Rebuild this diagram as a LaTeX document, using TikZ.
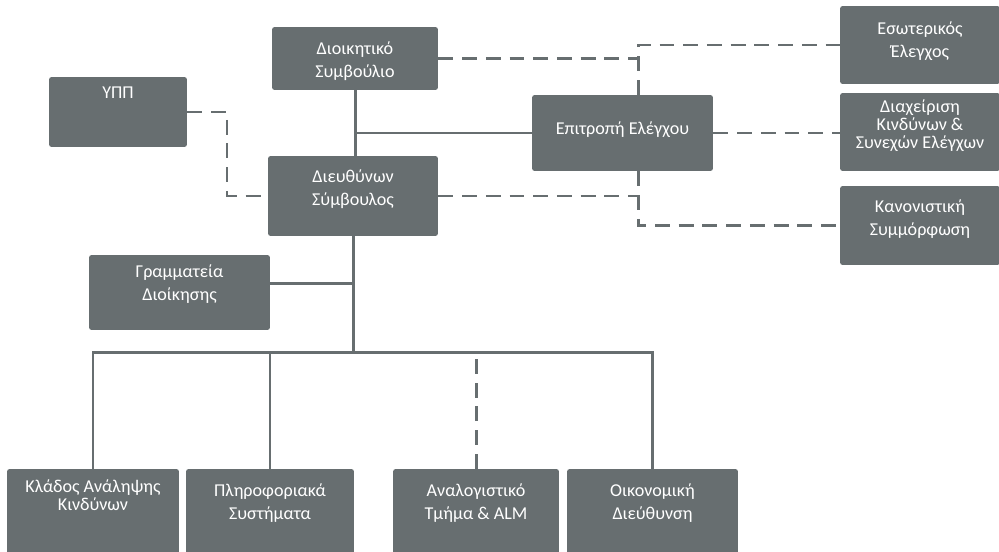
\documentclass[tikz,border=0pt]{standalone}
\usepackage{fontspec}
\setmainfont{Carlito}
\definecolor{boxgray}{RGB}{103,110,112}
\begin{document}
\begin{tikzpicture}[x=0.02cm, y=-0.02cm,
        box/.style={rectangle, rounded corners=1.5pt, fill=boxgray, inner sep=0pt},
        boxtext/.style={anchor=north, inner sep=0pt, text=white, align=center, font=\fontsize{10.3}{13}\selectfont},
        tighttext/.style={boxtext, font=\fontsize{10.3}{10.2}\selectfont},
        sline/.style={draw=boxgray, line width=1.7pt},
        dline/.style={draw=boxgray, line width=1.7pt, dash pattern=on 8.5pt off 5pt}
    ]
        \clip (0,0) rectangle (999,551);

        % Board and chief executive
        \node[box, minimum width=3.32cm, minimum height=1.26cm,
            label={[boxtext, yshift=-0.29cm]north:{Διοικητικό\\Συμβούλιο}}] (board) at (355,58.5) {};
        \node[box, minimum width=3.40cm, minimum height=1.60cm,
            label={[boxtext, yshift=-0.27cm]north:{Διευθύνων\\Σύμβουλος}}] (ceo) at (353,196) {};
        \node[box, minimum width=2.76cm, minimum height=1.40cm,
            label={[boxtext, yshift=-0.19cm]north:{ΥΠΠ}}] (ypp) at (118,112) {};
        \node[box, minimum width=3.62cm, minimum height=1.52cm,
            label={[boxtext, yshift=-0.53cm]north:{Επιτροπή Ελέγχου}}] (committee) at (622.5,133) {};

        % Control functions on the right
        \node[box, minimum width=3.2cm, minimum height=1.56cm,
            label={[boxtext, yshift=-0.31cm]north:{Εσωτερικός\\Έλεγχος}}] (audit) at (920,45) {};
        \node[box, minimum width=3.2cm, minimum height=1.56cm,
            label={[tighttext, yshift=-0.13cm]north:{Διαχείριση\\Κινδύνων \&\\Συνεχών Ελέγχων}}] (risk) at (920,132) {};
        \node[box, minimum width=3.2cm, minimum height=1.58cm,
            label={[boxtext, yshift=-0.27cm]north:{Κανονιστική\\Συμμόρφωση}}] (compliance) at (920,225.5) {};

        % Secretariat
        \node[box, minimum width=3.62cm, minimum height=1.50cm,
            label={[boxtext, yshift=-0.19cm]north:{Γραμματεία\\Διοίκησης}}] (secretariat) at (179.5,292.5) {};

        % Bottom row of departments
        \node[box, minimum width=3.44cm, minimum height=1.82cm,
            label={[tighttext, yshift=-0.21cm]north:{Κλάδος Ανάληψης\\Κινδύνων}}] (underwriting) at (93,514.5) {};
        \node[box, minimum width=3.36cm, minimum height=1.82cm,
            label={[boxtext, yshift=-0.29cm]north:{Πληροφοριακά\\Συστήματα}}] (systems) at (270,514.5) {};
        \node[box, minimum width=3.32cm, minimum height=1.82cm,
            label={[boxtext, yshift=-0.29cm]north:{Αναλογιστικό\\Τμήμα \& ALM}}] (actuarial) at (476,514.5) {};
        \node[box, minimum width=3.42cm, minimum height=1.82cm,
            label={[boxtext, yshift=-0.29cm]north:{Οικονομική\\Διεύθυνση}}] (finance) at (652.5,514.5) {};

        % Junction points
        \coordinate (jtop) at (638,45);
        \coordinate (jbot) at (638,225);
        \coordinate (jypp) at (227,112);
        \coordinate (bus) at (353,352);

        % Solid reporting lines
        \draw[sline] (board.south) -- (board.south |- ceo.north);
        \draw[sline] (committee.west) -- (committee.west -| board.south);
        \draw[sline] (ceo.south) -- (bus);
        \draw[sline] ([yshift=0.18cm]secretariat.east) -- ([yshift=0.18cm]secretariat.east -| ceo.south);
        \draw[sline] (underwriting.north) |- (bus) -| (finance.north);
        \draw[sline] (systems.north) -- (systems.north |- bus);

        % Dashed reporting lines
        \draw[dline] (board.east) -- (board.east -| jtop);
        \draw[dline] (committee.north -| jtop) |- (audit.west);
        \draw[dline] (committee.east) -- (committee.east -| risk.west);
        \draw[dline] (ceo.east) -- (ceo.east -| jbot);
        \draw[dline] (committee.south -| jbot) |- (compliance.west);
        \draw[dline] (ypp.east) -- (jypp) |- (ceo.west);
        \draw[dline] (actuarial.north) -- ([yshift=-0.06cm]actuarial.north |- bus);

    \end{tikzpicture}
\end{document}
